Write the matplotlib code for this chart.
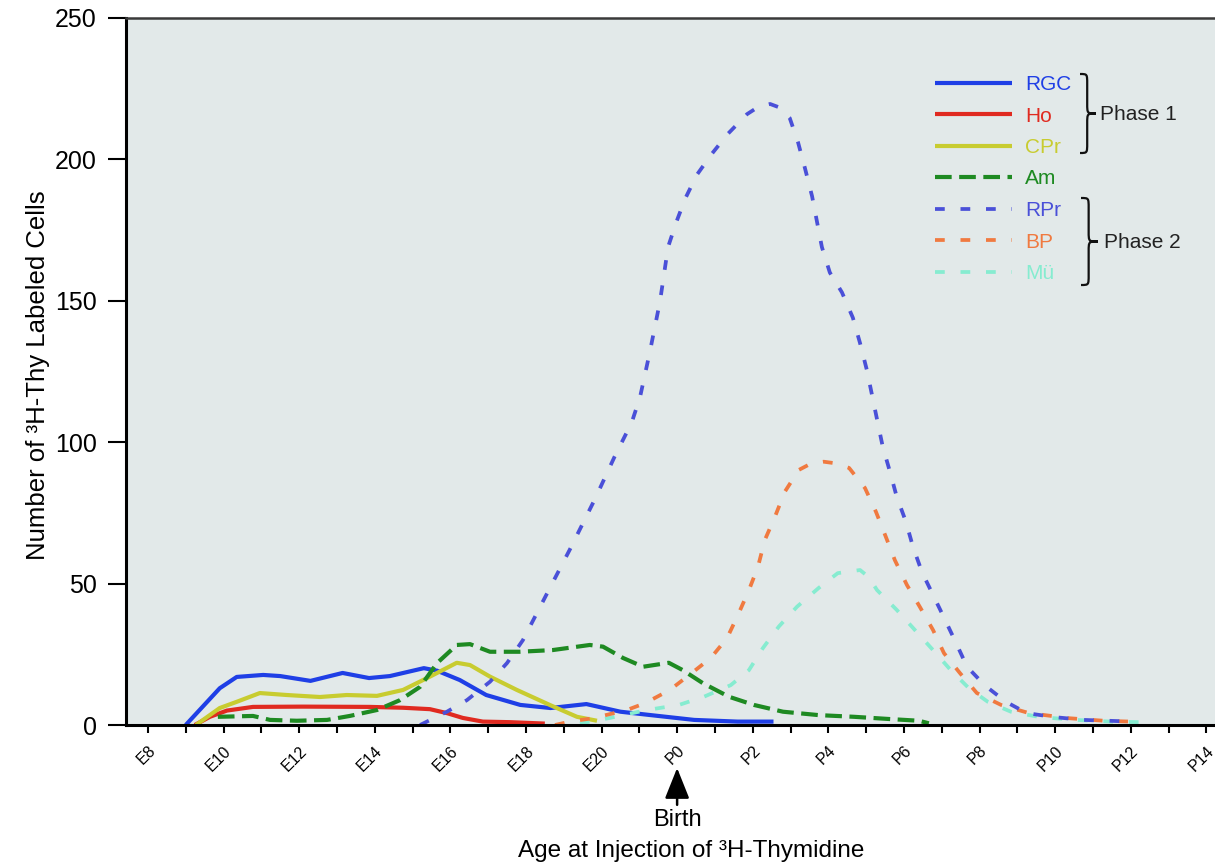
import numpy as np
import matplotlib
matplotlib.use("Agg")
import matplotlib.pyplot as plt
from matplotlib.path import Path
from matplotlib.patches import PathPatch

plt.rcParams['font.family'] = ['Liberation Sans', 'DejaVu Sans']

# ages in days relative to birth (P0 = 0, E21 = -1, E8 = -14)
rgc_age = [-13.0, -12.55, -12.1, -11.65, -10.95, -10.5, -9.7, -8.85, -8.15, -7.6, -6.7,
           -6.35, -5.75, -5.05, -4.15, -3.35, -2.4, -1.5, -0.7, 0.45, 1.6, 2.55]
rgc_val = [0, 6.5, 13, 17, 17.7, 17.3, 15.6, 18.4, 16.6, 17.3, 20.1,
           19.2, 15.9, 10.6, 7.1, 6.0, 7.4, 4.7, 3.5, 1.8, 1.2, 1.2]

ho_age = [-12.76, -12.36, -11.91, -11.22, -9.9, -8.13, -7.25, -6.54, -6.09, -5.67, -5.14, -4.42, -3.5]
ho_val = [0, 2.9, 5.1, 6.4, 6.5, 6.4, 6.1, 5.6, 4.2, 2.5, 1.2, 1.0, 0.5]

cpr_age = [-12.73, -12.1, -11.65, -11.04, -10.32, -9.45, -8.74, -7.94, -7.25, -6.54,
           -5.83, -5.48, -4.95, -4.24, -3.37, -2.65, -2.12]
cpr_val = [0, 6, 8.2, 11.3, 10.6, 9.9, 10.6, 10.3, 12.4, 17.1,
           22, 21.2, 17.1, 12.4, 7.1, 2.9, 1.5]

am_age = [-12.15, -11.22, -10.77, -10.06, -9.26, -8.66, -7.94, -7.33, -6.8, -6.35,
          -5.83, -5.48, -4.95, -4.16, -3.29, -2.31, -1.96, -1.43, -0.9, -0.22,
          0.15, 0.68, 1.37, 2.03, 2.8, 3.74, 4.68, 5.63, 6.4, 6.66]
am_val = [2.9, 3.2, 1.8, 1.5, 1.8, 3.2, 5.3, 8.8, 13.5, 21.9,
          28.3, 28.6, 25.9, 25.9, 26.5, 28.3, 27.7, 23.7, 20.6, 22,
          19.4, 14.8, 10, 7.1, 4.7, 3.5, 2.9, 2.1, 1.5, 0.6]

rpr_age = [-6.8, -6.09, -5.56, -4.95, -4.5, -4.08, -3.5, -2.84, -2.17, -1.65,
           -1.2, -0.98, -0.72, -0.45, -0.24, -0.03, 0.21, 0.52, 0.92, 1.34,
           1.85, 2.14, 2.46, 2.72, 2.98, 3.2, 3.38, 3.57, 3.83, 4.04, 4.36, 4.65,
           4.84, 5.02, 5.29, 5.44, 5.63, 5.81, 6.05, 6.24, 6.48, 6.77,
           7.06, 7.38, 7.67, 8.14, 8.7, 9.25, 9.97, 10.74, 12.06]
rpr_val = [0, 4.7, 8.8, 15.3, 21.9, 30, 45, 62, 80, 95,
           107, 116, 132, 150, 169, 177.5, 186, 194.5, 202, 209,
           216, 218.5, 219.6, 218.3, 214.6, 206, 197, 187, 169, 160, 153, 144,
           135, 125.5, 108, 98.4, 89.6, 80.7, 72, 63, 54, 46,
           38, 29, 20.6, 14, 8.2, 4.2, 2.8, 1.8, 1.2]

bp_age = [-3.23, -2.84, -2.23, -1.33, -0.85, -0.19, 0.39, 0.89, 1.32, 1.61,
          1.9, 2.14, 2.32, 2.59, 2.85, 3.22, 3.55, 3.88, 4.21, 4.55, 4.97, 5.26,
          5.52, 5.76, 6.08, 6.42, 6.77, 7.06, 7.48, 7.93, 8.57, 9.31,
          10.37, 11.29, 12.0]
bp_val = [0, 1.2, 2.4, 5.3, 7.7, 12.4, 18.4, 23.7, 30.7, 38.9,
          47.7, 56, 65.4, 73.7, 82.5, 90.2, 92.5, 93.1, 92.5, 90.9, 83.8, 75.4,
          66.6, 58.3, 49.5, 41.8, 33.6, 25.4, 18.4, 11.3, 7.1, 4.2,
          2.4, 1.5, 1.2]

mu_age = [-2.57, -1.78, -0.8, 0.05, 0.71, 1.42, 1.9, 2.27, 2.69, 3.17,
          3.74, 4.25, 4.84, 5.06, 5.29, 5.81, 6.29, 6.77, 7.24, 7.72, 8.22,
          8.83, 9.6, 10.55, 11.48, 12.24]
mu_val = [0.5, 2.5, 5.3, 7.1, 10, 14.1, 19.4, 27.2, 34.8, 41.8,
          48.4, 53.7, 54.8, 52.4, 47.7, 40.7, 33.6, 26.5, 19.4, 13, 8.2,
          4.7, 2.8, 1.8, 1.2, 1.0]

tick_days = list(range(-14, 15))
tick_labels = ['E8', '', 'E10', '', 'E12', '', 'E14', '', 'E16', '', 'E18', '', 'E20', '',
               'P0', '', 'P2', '', 'P4', '', 'P6', '', 'P8', '', 'P10', '', 'P12', '', 'P14']

W, H = 1215, 863
fig = plt.figure(figsize=(W / 100, H / 100), dpi=100)
ax = fig.add_axes([126 / W, 1 - 725 / H, (W - 126) / W, (725 - 18) / H])
ax.set_facecolor('#e2e9e9')

solid = dict(lw=3.0, solid_capstyle='butt')
l_rgc, = ax.plot(rgc_age, rgc_val, color='#1f3fe6', label='RGC', **solid)
l_ho, = ax.plot(ho_age, ho_val, color='#e02a20', label='Ho', **solid)
l_cpr, = ax.plot(cpr_age, cpr_val, color='#c8cc30', label='CPr', **solid)
l_am, = ax.plot(am_age, am_val, color='#1e8a22', lw=3.0, dashes=(4, 1.8), label='Am')
l_mu, = ax.plot(mu_age, mu_val, color='#86ecd0', lw=2.7, dashes=(2.6, 4.2), label='Mü')
l_bp, = ax.plot(bp_age, bp_val, color='#f07a40', lw=2.7, dashes=(2.6, 4.2), label='BP')
l_rpr, = ax.plot(rpr_age, rpr_val, color='#4a50d8', lw=2.7, dashes=(2.6, 4.2), label='RPr')

ax.set_xlim(-14.58, 14.23)
ax.set_ylim(0, 250)
ax.set_yticks([0, 50, 100, 150, 200, 250])
ax.set_xticks(tick_days)
ax.set_xticklabels(tick_labels, rotation=45, ha='right', rotation_mode='anchor')
ax.tick_params(axis='y', length=13, width=1.5, pad=8, labelsize=18)
ax.tick_params(axis='x', length=6, width=1.5, pad=7, labelsize=11.5)

ax.spines['right'].set_visible(False)
ax.spines['left'].set_linewidth(2.2)
ax.spines['bottom'].set_linewidth(2.2)
ax.spines['top'].set_linewidth(1.8)
ax.spines['top'].set_color('#3a3a3a')

handles = [l_rgc, l_ho, l_cpr, l_am, l_rpr, l_bp, l_mu]
ax.legend(handles, [h.get_label() for h in handles], loc='upper left',
          bbox_to_anchor=(935 / W, 1 - 75 / H), bbox_transform=fig.transFigure,
          frameon=False, fontsize=15, handlelength=3.7, handletextpad=0.62,
          labelspacing=0.6, borderpad=0, borderaxespad=0, labelcolor='linecolor')


def brace(x0, ytop, ybot, width, r=10):
    # curly brace in pixel coordinates measured from top-left
    xm = x0 + width * 0.45
    tip = x0 + width
    ymid = (ytop + ybot) / 2
    pts = [(x0, ytop), (xm, ytop), (xm, ytop), (xm, ytop + r),
           (xm, ymid - r),
           (xm, ymid), (xm, ymid), (tip, ymid),
           (xm, ymid), (xm, ymid), (xm, ymid + r),
           (xm, ybot - r),
           (xm, ybot), (xm, ybot), (x0, ybot)]
    codes = [Path.MOVETO, Path.CURVE4, Path.CURVE4, Path.CURVE4,
             Path.LINETO,
             Path.CURVE4, Path.CURVE4, Path.CURVE4,
             Path.CURVE4, Path.CURVE4, Path.CURVE4,
             Path.LINETO,
             Path.CURVE4, Path.CURVE4, Path.CURVE4]
    verts = [(px / W, 1 - py / H) for px, py in pts]
    fig.add_artist(PathPatch(Path(verts, codes), transform=fig.transFigure,
                             fill=False, lw=1.6, color='#111111'))


brace(1080, 74, 153, 16)
brace(1081, 198, 285, 17)
fig.text(1100 / W, 1 - 114 / H, 'Phase 1', fontsize=15, va='center', ha='left', color='#222222')
fig.text(1104 / W, 1 - 242 / H, 'Phase 2', fontsize=15, va='center', ha='left', color='#222222')

ax.annotate('Birth', xy=(0, -43 / 707), xycoords=('data', 'axes fraction'),
            xytext=(0, -95 / 707), textcoords=('data', 'axes fraction'),
            ha='center', va='center', fontsize=17, annotation_clip=False,
            arrowprops=dict(arrowstyle='-|>,head_length=0.9,head_width=0.36',
                            color='black', lw=1.8, shrinkA=1, shrinkB=0,
                            mutation_scale=21))

fig.text(691 / W, 1 - 857 / H, 'Age at Injection of ³H-Thymidine', fontsize=17.5,
         ha='center', va='baseline')
fig.text(38 / W, 1 - 375 / H, 'Number of ³H-Thy Labeled Cells', fontsize=18.5,
         rotation=90, ha='center', va='center')

fig.savefig('out.png', dpi=100)
